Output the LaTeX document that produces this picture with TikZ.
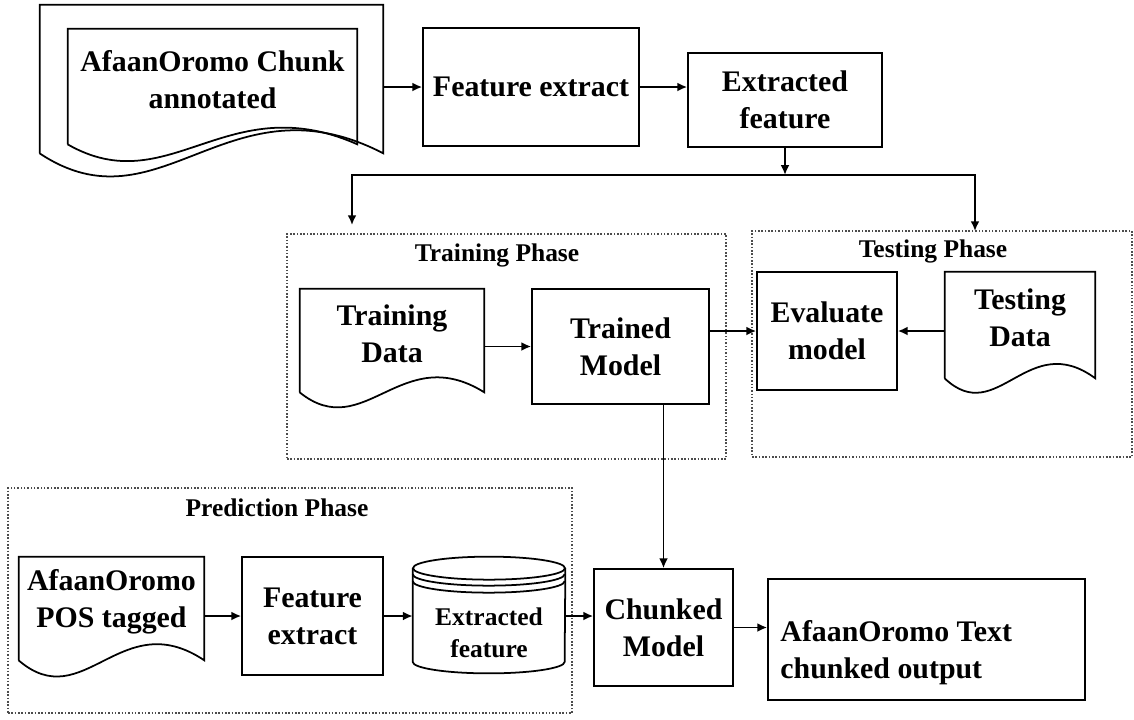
\documentclass[tikz,border=0pt]{standalone}
\usepackage{fontspec}
\setmainfont{Liberation Serif}
\usetikzlibrary{arrows.meta,calc}

\tikzset{
  box/.style={draw, line width=1pt, align=center, inner sep=0pt,
    font=\fontsize{17}{21}\selectfont\bfseries},
  doc/.style={align=center, inner sep=0pt,
    font=\fontsize{17}{21}\selectfont\bfseries},
  phase/.style={draw=black!70, densely dotted, line width=0.9pt, inner sep=0pt},
  phaselbl/.style={font=\fontsize{14.5}{17}\selectfont\bfseries},
  arr/.style={-{Latex[length=5.5pt,width=5pt]}, line width=1pt},
}

\newcommand{\docshape}[3]{%
  \draw[line width=1pt] ($(#1.south west)+(0,#2)$) -- (#1.north west)
    -- (#1.north east) -- ($(#1.south east)+(0,#2)$)
    .. controls ($(#1.south west)!0.55!(#1.south east)+(0,#2-#3)$)
    and ($(#1.south west)!0.35!(#1.south east)+(0,#2+#3)$)
    .. ($(#1.south west)+(0,#2)$);}

\begin{document}
\begin{tikzpicture}[x=0.2mm,y=-0.2mm]
 \useasboundingbox (0,0) rectangle (1134,719);

 \node[phase, minimum width=87.8mm, minimum height=45mm] (trainph) at (506.5,346.5) {};
 \node[phaselbl] (trainlbl) at (497,255) {Training Phase};
 \node[phase, minimum width=76mm, minimum height=45.2mm] (testph) at (942,344) {};
 \node[phaselbl] (testlbl) at (933,251) {Testing Phase};
 \node[phase, minimum width=112.8mm, minimum height=45mm] (predph) at (290,600.5) {};
 \node[phaselbl] (predlbl) at (277,508) {Prediction Phase};

 \node[doc, minimum width=68.6mm, minimum height=29.6mm] (corpusback) at (211.5,79) {};
 \node[doc, minimum width=57.8mm, minimum height=20.2mm] (corpus) at (212.5,79.5)
   {AfaanOromo Chunk\\annotated};
 \docshape{corpusback}{0}{80}
 \docshape{corpus}{14}{58}
 \node[box, minimum width=43.2mm, minimum height=23.6mm] (fe) at (531,87) {Feature extract};
 \node[box, minimum width=38.8mm, minimum height=18.8mm] (ef) at (785,100) {Extracted\\feature};

 \node[doc, minimum width=36.8mm, minimum height=17.8mm] (traindata) at (392,333.5) {Training\\Data};
 \docshape{traindata}{14}{52}
 \node[box, minimum width=35.4mm, minimum height=23mm] (trained) at (620.5,346.5) {Trained\\Model};

 \node[box, minimum width=28mm, minimum height=23.6mm] (eval) at (827,331) {Evaluate\\model};
 \node[doc, minimum width=30mm, minimum height=18.4mm] (testdata) at (1020,318) {Testing\\Data};
 \docshape{testdata}{14}{50}

 \node[doc, minimum width=37mm, minimum height=17.8mm] (postag) at (111.5,601.5) {AfaanOromo\\POS tagged};
 \docshape{postag}{14}{56}
 \node[box, minimum width=28.2mm, minimum height=23.6mm] (fe2) at (312.5,616) {Feature\\extract};
 \node[doc, font=\fontsize{14.5}{18.5}\selectfont\bfseries, minimum width=30.4mm,
   minimum height=16mm] (store) at (489,633) {Extracted\\feature};
 \draw[line width=1pt] ($(store.north)+(0,-24.5)$) ellipse [x radius=15.2mm, y radius=2.3mm];
 \foreach \dy in {-18.5,-11.5}
   \draw[line width=1pt] ($(store.north west)+(0,\dy)$)
     arc[start angle=180, end angle=360, x radius=15.2mm, y radius=2.3mm];
 \draw[line width=1pt] ($(store.north west)+(0,-24.5)$) -- ($(store.south west)+(0,-11.5)$)
   arc[start angle=180, end angle=360, x radius=15.2mm, y radius=2.3mm]
   -- ($(store.north east)+(0,-24.5)$);

 \node[box, minimum width=27.8mm, minimum height=23.4mm] (chunked) at (663.5,627.5) {Chunked\\Model};
 \node[box, minimum width=63.4mm, minimum height=24.2mm] (out) at (926.5,639.5) {};
 \node[font=\fontsize{17}{21}\selectfont\bfseries, anchor=west, align=left, inner sep=0pt]
   (outtext) at ($(out.west)+(13,13)$) {AfaanOromo Text\\chunked output};

 \coordinate (split) at ($(ef.south)+(0,27)$);
 \coordinate (traintop) at (352,225);
 \coordinate (testtop) at (975,231);

 \draw[arr] (fe.west -| corpusback.east) -- (fe.west);
 \draw[arr] (fe.east) -- (fe.east -| ef.west);
 \draw[arr] (ef.south) -- (split);
 \draw[arr] (split) -| (traintop);
 \draw[arr] (split) -| (testtop);
 \draw[arr] (trained.west -| traindata.east) -- (trained.west);
 \draw[arr] (eval.west -| trained.east) -- (eval.west);
 \draw[arr] (eval.east -| testdata.west) -- (eval.east);
 \draw[arr] (trained.south -| chunked.north) -- (chunked.north);
 \draw[arr] (fe2.west -| postag.east) -- (fe2.west);
 \draw[arr] (fe2.east) -- (fe2.east -| store.west);
 \draw[arr] (fe2.east -| store.east) -- (fe2.east -| chunked.west);
 \draw[arr] (chunked.east) -- (chunked.east -| out.west);
\end{tikzpicture}
\end{document}
